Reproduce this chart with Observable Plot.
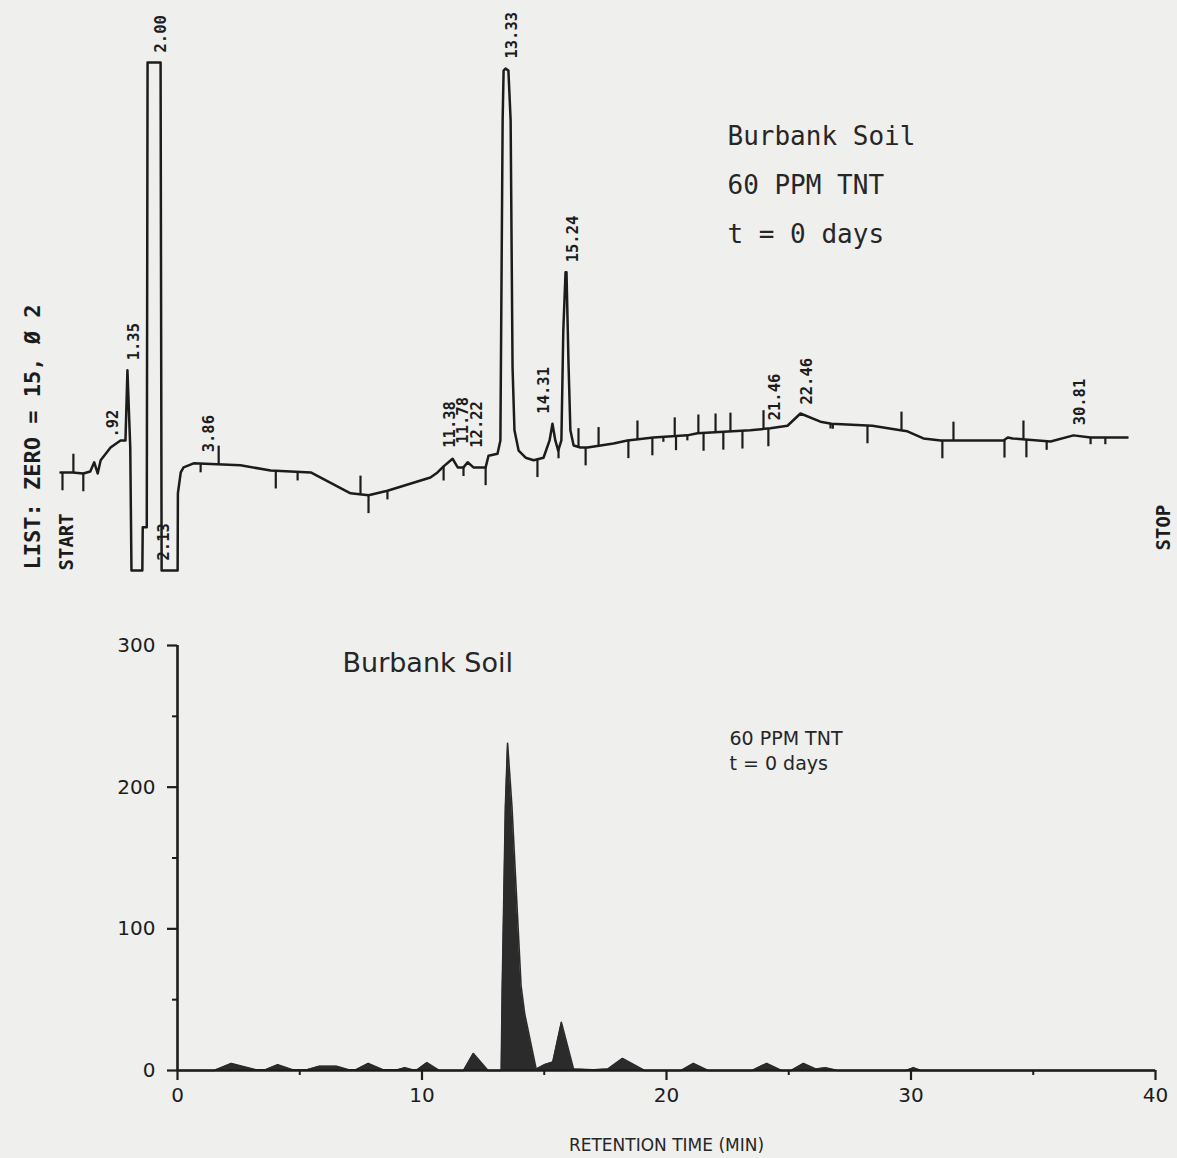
<!DOCTYPE html>
<html>
<head>
<meta charset="utf-8">
<script src="https://cdn.jsdelivr.net/npm/d3@7"></script>
<script src="https://cdn.jsdelivr.net/npm/@observablehq/plot@0.6"></script>
<style>
  html, body { margin: 0; padding: 0; background: #efefee; }
  #wrap { position: relative; width: 1177px; height: 1158px; overflow: hidden; }
  #top { position: absolute; left: 0; top: 0; }
  #bottom { position: absolute; left: 0; top: 620px; }
</style>
</head>
<body>
<div id="wrap"><div id="top"></div><div id="bottom"></div></div>
<script>
// ---------- Top: integrator trace (signal in % of full scale vs. retention time, min) ----------
const traceTime = [0, 0.24, 0.46, 0.60, 0.68, 0.75, 0.81, 1.01, 1.21, 1.31, 1.35, 1.42, 1.45, 1.72, 1.73, 1.83, 1.85, 2.27, 2.31, 2.93, 2.94, 3.05, 3.16, 3.55, 5.07, 6.01, 7.26, 8.50, 9.06, 9.65, 10.99, 11.21, 11.40, 11.68, 11.84, 12.02, 12.15, 12.33, 12.71, 12.80, 13.08, 13.17, 13.24, 13.27, 13.33, 13.42, 13.49, 13.55, 13.61, 13.74, 13.96, 14.21, 14.52, 14.71, 14.80, 14.89, 14.98, 15.08, 15.14, 15.21, 15.24, 15.30, 15.36, 15.46, 15.67, 15.89, 16.69, 17.12, 17.92, 18.97, 19.28, 20.91, 21.53, 22.06, 22.46, 23.07, 23.41, 24.66, 25.52, 25.73, 26.22, 26.75, 28.67, 28.80, 28.95, 30.11, 30.81, 31.25, 32.20];
const traceSignal = [19.3, 19.3, 19.1, 19.5, 21.3, 19.1, 21.7, 24.2, 25.6, 25.6, 39.4, 24.2, 0, 0, 8.5, 8.5, 100, 100, 0, 0, 15.2, 19.3, 20.3, 21.1, 20.7, 19.7, 19.3, 15.2, 14.8, 15.7, 18.3, 19.3, 20.5, 22.0, 20.3, 20.3, 21.3, 20.3, 20.3, 22.6, 23.0, 25.6, 88.6, 98.4, 98.8, 98.4, 88.6, 40.0, 27.6, 23.6, 22.2, 21.7, 22.2, 25.6, 28.9, 25.6, 23.6, 25.6, 47.2, 58.7, 58.7, 41.3, 27.6, 24.6, 24.2, 24.2, 25.0, 25.6, 26.2, 26.6, 27.0, 27.6, 28.0, 28.5, 30.9, 29.3, 28.9, 28.5, 27.6, 27.4, 26.0, 25.6, 25.6, 26.2, 26.0, 25.4, 26.6, 26.2, 26.2];

// integration event marks (time, direction/relative length: + up, - down)
const tickTime = [0.04, 0.26, 0.46, 3.82, 4.39, 6.17, 6.85, 8.81, 9.06, 9.65, 11.40, 12.02, 12.71, 14.33, 14.99, 15.61, 15.83, 16.23, 17.15, 17.43, 17.89, 18.23, 18.58, 18.62, 18.97, 19.31, 19.47, 19.84, 20.08, 20.30, 20.67, 21.32, 21.47, 23.38, 23.45, 24.51, 25.55, 26.80, 27.14, 28.70, 29.28, 29.37, 29.99, 31.25, 31.63];
const tickDir = [-1, 1, -1, -0.5, 1, -1, -0.5, 1, -1, -0.5, -0.8, -0.5, -1, -1, -0.5, 1, -1, 1, -1, 1, -1, -0.3, 1, -0.8, -0.3, 1, -1, 1, -1, 1, -1, 1, -1, -0.3, -0.3, -1, 1, -1, 1, -1, 1, -1, -0.5, -0.4, -0.4];

// printed retention times and the signal at the top of each peak
const peakTime = [0.92, 1.35, 2.00, 2.13, 3.86, 11.38, 11.78, 12.22, 13.33, 14.31, 15.24, 21.46, 22.46, 30.81];
const peakText = [".92", "1.35", "2.00", "2.13", "3.86", "11.38", "11.78", "12.22", "13.33", "14.31", "15.24", "21.46", "22.46", "30.81"];
const peakTop = [24.2, 39.4, 100, 0, 21.3, 22.2, 23.0, 22.2, 98.8, 28.9, 58.7, 27.6, 30.7, 26.6];

// recorder chart-speed calibration: retention time -> minutes along the paper
const paperTime = [0, 1.35, 2.00, 3.86, 13.33, 15.24, 22.46, 30.81, 32.2];
const paperMinute = [0, 2.02, 2.81, 4.26, 13.43, 15.27, 22.33, 30.57, 32.2];

// ---------- Bottom: reconstructed chromatogram ----------
const bottomTime = [0, 1.5, 2.2, 3.2, 3.6, 4.1, 4.7, 5.3, 5.8, 6.5, 7.0, 7.3, 7.8, 8.4, 9.0, 9.3, 9.6, 9.8, 10.2, 10.7, 11.7, 12.1, 12.7, 13.24, 13.28, 13.41, 13.5, 13.68, 14.05, 14.2, 14.67, 15.0, 15.35, 15.7, 16.2, 17.0, 17.6, 18.2, 19.1, 20.6, 21.1, 21.7, 23.5, 24.1, 24.7, 25.1, 25.6, 26.1, 26.5, 27.0, 29.8, 30.1, 30.4, 40];
const bottomValue = [0, 0, 5, 0.5, 0.5, 4, 0.5, 0.5, 3, 3, 0.5, 0.5, 5, 0.5, 0.5, 2, 0.5, 0.5, 5.5, 0, 0, 12, 0, 0, 57, 186, 231, 186, 60, 40, 1, 4, 6, 34, 1, 0.5, 1, 8.5, 0, 0, 5, 0, 0, 5, 0, 0, 5, 1, 2, 0, 0, 2, 0, 0];
const xTicks = [0, 10, 20, 30, 40];
const xMinor = [5, 15, 25, 35];
const yTicks = [0, 100, 200, 300];
const yMinor = [50, 150, 250];

const ink = "#1c1c1c";
const mono = "DejaVu Sans Mono, monospace";
const sans = "DejaVu Sans, sans-serif";

const toPaper = d3.scaleLinear().domain(paperTime).range(paperMinute);

const trace = traceTime.map((t, i) => ({t, v: traceSignal[i]}));
function interp(t) {
  const i = d3.bisectLeft(traceTime, t);
  if (i <= 0) return traceSignal[0];
  if (i >= traceTime.length) return traceSignal[traceSignal.length - 1];
  const t0 = traceTime[i - 1], t1 = traceTime[i];
  return traceSignal[i - 1] + (traceSignal[i] - traceSignal[i - 1]) * (t - t0) / (t1 - t0);
}
const ticks = tickTime.map((t, i) => ({t, y1: interp(t), y2: interp(t) + tickDir[i] * 3.6}));
const labels = peakTime.map((t, i) => ({t, v: peakTop[i], text: peakText[i]}));

const topPlot = Plot.plot({
  width: 1177, height: 620, margin: 0,
  x: {type: "linear", transform: toPaper, domain: [0, 32.2], range: [60, 1127], axis: null},
  y: {domain: [0, 100], range: [570, 62], axis: null},
  style: {background: "transparent", overflow: "visible"},
  marks: [
    Plot.line(trace, {x: "t", y: "v", stroke: ink, strokeWidth: 2.5}),
    Plot.ruleX(ticks, {x: "t", y1: "y1", y2: "y2", stroke: ink, strokeWidth: 2.2}),
    Plot.text(labels, {x: "t", y: "v", text: "text", rotate: -90, textAnchor: "start", lineAnchor: "middle",
      dx: 7, dy: -10, fontFamily: mono, fontSize: 15.5, fontWeight: "bold", fill: ink}),
    Plot.text(["Burbank Soil\n60 PPM TNT\nt = 0 days"], {frameAnchor: "top-left", dx: 727, dy: 110,
      textAnchor: "start", lineAnchor: "top", lineHeight: 1.88, fontFamily: mono, fontSize: 26, fill: "#262626"}),
    Plot.text(["LIST: ZERO = 15, Ø 2"], {frameAnchor: "top-left", dx: 32, dy: 569, rotate: -90,
      textAnchor: "start", lineAnchor: "middle", fontFamily: mono, fontSize: 22, fontWeight: "bold", fill: ink}),
    Plot.text(["START"], {frameAnchor: "top-left", dx: 66, dy: 570, rotate: -90,
      textAnchor: "start", lineAnchor: "middle", fontFamily: mono, fontSize: 19, fontWeight: "bold", fill: ink}),
    Plot.text(["STOP"], {frameAnchor: "top-left", dx: 1163, dy: 550, rotate: -90,
      textAnchor: "start", lineAnchor: "middle", fontFamily: mono, fontSize: 19, fontWeight: "bold", fill: ink})
  ]
});
document.getElementById("top").appendChild(topPlot);

const bottom = bottomTime.map((t, i) => ({t, v: bottomValue[i]}));
const bottomPlot = Plot.plot({
  width: 1177, height: 538,
  marginLeft: 177, marginRight: 22, marginTop: 25, marginBottom: 88,
  x: {domain: [0, 40]},
  y: {domain: [0, 300]},
  style: {background: "transparent", overflow: "visible", fontFamily: sans, fontSize: "20px", color: ink},
  marks: [
    Plot.areaY(bottom, {x: "t", y: "v", fill: "#2b2b2b"}),
    Plot.line(bottom, {x: "t", y: "v", stroke: "#2b2b2b", strokeWidth: 1.6}),
    Plot.ruleY([0], {stroke: ink, strokeWidth: 2.6}),
    Plot.ruleX([0], {stroke: ink, strokeWidth: 2.6}),
    Plot.axisX({ticks: xTicks, tickSize: 10, tickPadding: 7, label: null, strokeWidth: 2.2, fill: ink, stroke: ink}),
    Plot.axisX({ticks: xMinor, tickSize: 5, tickFormat: () => "", label: null, strokeWidth: 2, stroke: ink}),
    Plot.axisY({ticks: yTicks, tickSize: 10, tickPadding: 12, label: null, strokeWidth: 2.2, fill: ink, stroke: ink}),
    Plot.axisY({ticks: yMinor, tickSize: 5, tickFormat: () => "", label: null, strokeWidth: 2, stroke: ink}),
    Plot.text(["Burbank Soil"], {frameAnchor: "top-left", dx: 165, dy: 7, textAnchor: "start", lineAnchor: "top",
      fontFamily: sans, fontSize: 27, fill: "#262626"}),
    Plot.text(["60 PPM TNT\nt = 0 days"], {frameAnchor: "top-left", dx: 552, dy: 82, textAnchor: "start", lineAnchor: "top",
      lineHeight: 1.3, fontFamily: sans, fontSize: 19, fill: "#262626"}),
    Plot.text(["RETENTION TIME (MIN)"], {frameAnchor: "bottom", dy: 80, lineAnchor: "bottom",
      fontFamily: sans, fontSize: 17, fill: "#262626"})
  ]
});
document.getElementById("bottom").appendChild(bottomPlot);
</script>
</body>
</html>
